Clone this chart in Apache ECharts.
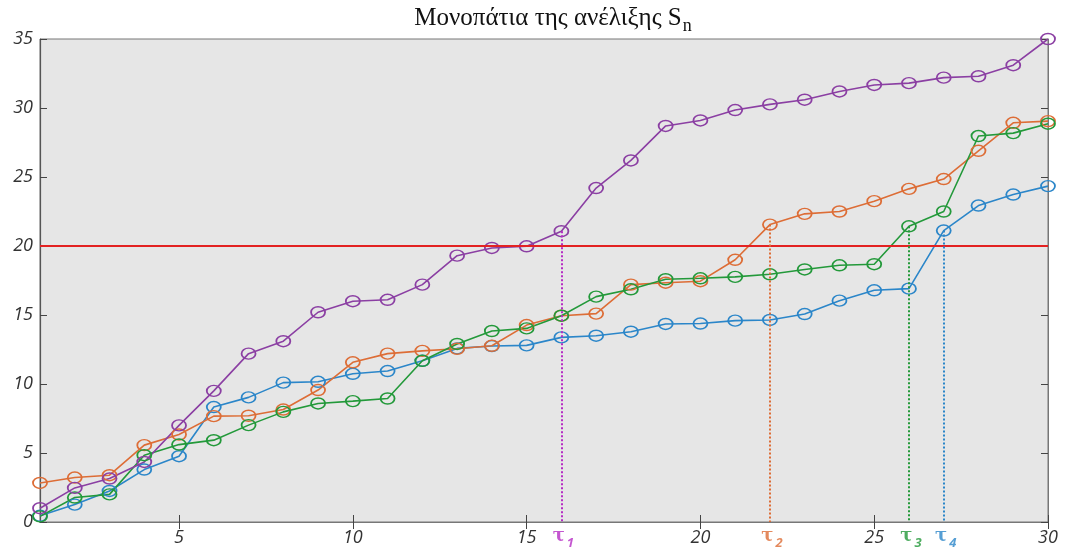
<!DOCTYPE html>
<html>
<head>
<meta charset="utf-8">
<script src="https://cdn.jsdelivr.net/npm/echarts@6/dist/echarts.min.js"></script>
<style>
  html, body { margin: 0; padding: 0; background: #ffffff; }
  #chart { width: 1065px; height: 548px; }
</style>
</head>
<body>
<div id="chart"></div>
<script>
// Time steps n = 1..30
const steps = [1,2,3,4,5,6,7,8,9,10,11,12,13,14,15,16,17,18,19,20,21,22,23,24,25,26,27,28,29,30];

// Four sample paths of the process S_n
const pathBlue   = [0.45,1.26,2.25,3.8,4.77,8.33,9.03,10.1,10.16,10.74,10.94,11.68,12.58,12.75,12.8,13.38,13.5,13.79,14.35,14.38,14.59,14.64,15.07,16.04,16.79,16.91,21.12,22.93,23.73,24.34];
const pathOrange = [2.83,3.22,3.39,5.57,6.34,7.67,7.7,8.15,9.56,11.57,12.2,12.4,12.55,12.77,14.27,14.95,15.1,17.2,17.34,17.45,19.0,21.55,22.33,22.5,23.25,24.14,24.85,26.9,28.93,29.05];
const pathGreen  = [0.41,1.77,2.0,4.84,5.61,5.93,7.02,7.98,8.59,8.76,8.95,11.68,12.9,13.84,14.03,14.95,16.33,16.86,17.59,17.66,17.76,17.95,18.3,18.6,18.68,21.43,22.5,27.97,28.18,28.86];
const pathPurple = [1.0,2.47,3.15,4.35,7.0,9.5,12.2,13.1,15.2,16.0,16.1,17.2,19.3,19.86,19.98,21.07,24.2,26.2,28.7,29.1,29.85,30.26,30.6,31.2,31.67,31.8,32.2,32.3,33.1,35.0];

// Barrier level and the first-passage times τ1..τ4
const barrier = 20;
const tauTimes  = [16, 22, 26, 27];          // purple, orange, green, blue
const tauNames  = ['1', '2', '3', '4'];

// Axis tick labels
const xTicks = [5, 10, 15, 20, 25, 30];

const colors = {
  blue: '#2b86c9',
  orange: '#dd6d36',
  green: '#23993a',
  purple: '#8b3fa3',
  red: '#e32222',
  tau1: '#b52cc4'
};
const tauColors = [colors.tau1, colors.orange, colors.green, colors.blue];

const pairs = arr => steps.map((n, i) => [n, arr[i]]);

function pathSeries(name, arr, color) {
  return {
    name: name,
    type: 'line',
    data: pairs(arr),
    symbol: 'circle',
    symbolSize: [14, 11],
    showSymbol: true,
    lineStyle: { color: color, width: 1.6 },
    itemStyle: { color: 'rgba(0,0,0,0)', borderColor: color, borderWidth: 1.6 },
    emphasis: { disabled: true },
    animation: false,
    z: 3
  };
}

// Dotted drop line from the first crossing point down to the time axis
function tauMark(arr, tauIdx) {
  const n = tauTimes[tauIdx];
  const v = arr[n - 1];
  return {
    symbol: 'none',
    silent: true,
    animation: false,
    lineStyle: { type: [2, 2], color: tauColors[tauIdx], width: 2 },
    label: { show: false },
    data: [[{ coord: [n, v] }, { coord: [n, 0] }]]
  };
}

const sBlue   = pathSeries('S1', pathBlue, colors.blue);
const sOrange = pathSeries('S2', pathOrange, colors.orange);
const sGreen  = pathSeries('S3', pathGreen, colors.green);
const sPurple = pathSeries('S4', pathPurple, colors.purple);

sPurple.markLine = tauMark(pathPurple, 0);
sOrange.markLine = tauMark(pathOrange, 1);
sGreen.markLine  = tauMark(pathGreen, 2);
sBlue.markLine   = tauMark(pathBlue, 3);

const barrierSeries = {
  name: 'barrier',
  type: 'line',
  data: [],
  animation: false,
  markLine: {
    symbol: 'none',
    silent: true,
    animation: false,
    label: { show: false },
    lineStyle: { type: 'solid', color: colors.red, width: 2 },
    data: [{ yAxis: barrier }]
  },
  z: 2
};

// τ labels under the time axis, one per stopping time
const tauLabelSeries = {
  name: 'tau',
  type: 'scatter',
  symbol: 'circle',
  symbolSize: 1,
  itemStyle: { color: 'rgba(0,0,0,0)' },
  clip: false,
  silent: true,
  animation: false,
  z: 5,
  label: {
    show: true,
    position: 'bottom',
    distance: 0,
    offset: [2, 1],
    formatter: function (p) {
      return '{t' + p.dataIndex + '|τ}{s' + p.dataIndex + '|' + tauNames[p.dataIndex] + '}';
    },
    rich: (function () {
      const r = {};
      tauColors.forEach((c, i) => {
        r['t' + i] = { fontFamily: 'DejaVu Serif', fontWeight: 'bold', fontSize: 18, color: c };
        r['s' + i] = { fontFamily: 'Open Sans', fontStyle: 'italic', fontWeight: 'bold', fontSize: 13, color: c, padding: [13, 0, 0, 2] };
      });
      return r;
    })()
  },
  data: tauTimes.map(n => [n, 0])
};

const axisFont = { fontFamily: 'Open Sans', fontStyle: 'italic', fontSize: 18, color: '#333333' };

const option = {
  backgroundColor: '#ffffff',
  animation: false,
  title: {
    text: '{a|Μονοπάτια της ανέλιξης S}{b|n}',
    left: 548,
    textAlign: 'center',
    top: -3,
    textStyle: {
      fontWeight: 'normal',
      rich: {
        a: { fontFamily: 'Liberation Serif', fontWeight: 'normal', fontSize: 25, color: '#111111' },
        b: { fontFamily: 'Liberation Serif', fontWeight: 'normal', fontSize: 18, color: '#111111', padding: [15, 0, 0, 1] }
      }
    }
  },
  grid: {
    left: 40, right: 17, top: 39, bottom: 26,
    outerBoundsMode: 'none',
    containLabel: false,
    show: true,
    backgroundColor: '#e6e6e6',
    borderColor: '#777777',
    borderWidth: 1
  },
  xAxis: [
    {
      type: 'value', min: 1, max: 30,
      axisLine: { show: true, lineStyle: { color: '#555555', width: 1.2 } },
      axisTick: { show: true, inside: true, length: 7, customValues: xTicks, lineStyle: { color: '#444444' } },
      axisLabel: Object.assign({ customValues: xTicks, margin: 7 }, axisFont),
      splitLine: { show: false }
    },
    {
      type: 'value', min: 1, max: 30, position: 'top',
      axisLine: { show: true, lineStyle: { color: '#777777', width: 1 } },
      axisTick: { show: true, inside: true, length: 7, customValues: xTicks, lineStyle: { color: '#444444' } },
      axisLabel: { show: false },
      splitLine: { show: false }
    }
  ],
  yAxis: [
    {
      type: 'value', min: 0, max: 35, interval: 5,
      axisLine: { show: true, lineStyle: { color: '#555555', width: 1.2 } },
      axisTick: { show: true, inside: true, length: 7, lineStyle: { color: '#444444' } },
      axisLabel: Object.assign({ margin: 7 }, axisFont),
      splitLine: { show: false }
    },
    {
      type: 'value', min: 0, max: 35, interval: 5, position: 'right',
      axisLine: { show: true, lineStyle: { color: '#777777', width: 1 } },
      axisTick: { show: true, inside: true, length: 7, lineStyle: { color: '#444444' } },
      axisLabel: { show: false },
      splitLine: { show: false }
    }
  ],
  series: [barrierSeries, sBlue, sOrange, sGreen, sPurple, tauLabelSeries]
};

const chart = echarts.init(document.getElementById('chart'), null, { renderer: 'canvas' });
chart.setOption(option);
</script>
</body>
</html>
